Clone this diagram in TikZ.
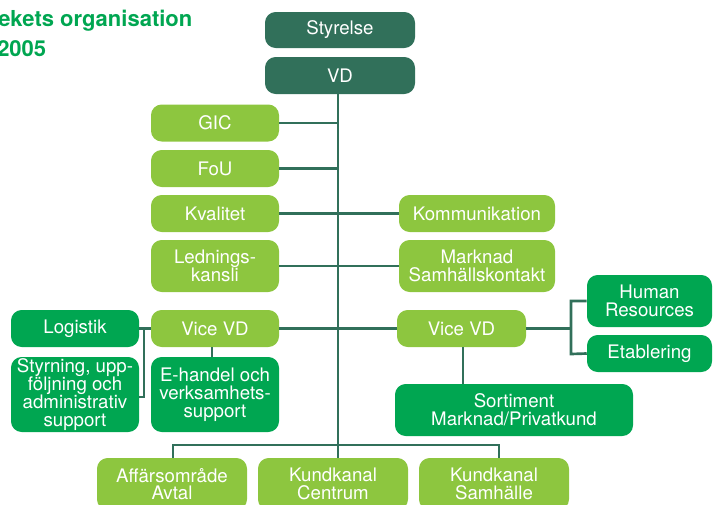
\documentclass[tikz,border=0pt]{standalone}
\usepackage{fontspec}
\setmainfont{TeX Gyre Heros}
\definecolor{dk}{HTML}{31705A}
\definecolor{lg}{HTML}{8DC63F}
\definecolor{mg}{HTML}{00A651}
\begin{document}
\begin{tikzpicture}[x=0.75pt,y=-0.75pt,
  box/.style={rectangle, rounded corners=8pt, inner sep=0pt, text=white, align=center,
    font=\fontsize{14}{13.3}\selectfont, minimum width=96pt, minimum height=27.75pt},
  dark/.style={box, fill=dk},
  light/.style={box, fill=lg},
  mid/.style={box, fill=mg},
  conn/.style={draw=dk, line width=2pt},
  title/.style={anchor=base west, inner sep=0pt, text=mg, font=\bfseries\fontsize{16.5}{20}\selectfont}]
\useasboundingbox (0,0) rectangle (713,504);
% title
\node[title] (t1) at (-2,26) {ekets organisation};
\node[title] (t2) at (-3,56) {2005};
% boxes
\node[dark, minimum width=112.5pt, minimum height=27pt] (sty) at (340,30) {Styrelse};
\node[dark, minimum width=112.5pt] (vd) at (340,75.5) {VD};
\node[light] (gic) at (215,123) {GIC};
\node[light] (fou) at (215,168.5) {FoU};
\node[light] (kval) at (215,213.5) {Kvalitet};
\node[light, minimum height=39pt] (led) at (215,266) {Lednings-\\kansli};
\node[light, minimum width=117pt] (kom) at (477,213.5) {Kommunikation};
\node[light, minimum width=117pt, minimum height=39pt] (mark) at (477,266) {Marknad\\Samhällskontakt};
\node[mid] (log) at (75,328.5) {Logistik};
\node[light] (vvl) at (215,328.5) {Vice VD};
\node[light, minimum width=96.75pt] (vvr) at (461.5,328.5) {Vice VD};
\node[mid, minimum width=93.75pt, minimum height=39pt] (hr) at (649.5,301) {Human\\Resources};
\node[mid, minimum width=93.75pt] (eta) at (649.5,353.5) {Etablering};
\node[mid, minimum height=56.25pt] (styr) at (75,394.5) {Styrning, upp-\\följning och\\administrativ\\support};
\node[mid, minimum height=56.25pt] (eh) at (215,394.5) {E-handel och\\verksamhets-\\support};
\node[mid, minimum width=178.5pt, minimum height=39pt] (sort) at (514,410) {Sortiment\\Marknad/Privatkund};
\node[light, minimum width=112.5pt, minimum height=39pt] (aff) at (172,484) {Affärsområde\\Avtal};
\node[light, minimum width=112.5pt, minimum height=39pt] (kc) at (333,484) {Kundkanal\\Centrum};
\node[light, minimum width=112.5pt, minimum height=39pt] (ks) at (494,484) {Kundkanal\\Samhälle};
% connectors
\coordinate (spine) at (338,445);
\coordinate (lb) at (144,397);
\coordinate (rb1) at (571,301);
\coordinate (rb2) at (571,354);
\coordinate (bl) at (173,445);
\coordinate (br) at (499,445);
\draw[conn] (vd.south -| spine) -- (spine);
\draw[conn] (gic.east) -- (gic.east -| spine);
\draw[conn] (fou.east) -- (fou.east -| spine);
\draw[conn] (kval.east) -- (kom.west);
\draw[conn] (led.east) -- (mark.west);
\draw[conn] (vvl.east) -- (vvr.west);
\draw[conn] (log.east) -- (vvl.west);
\draw[conn] (lb |- log.east) -- (lb) -- (lb -| styr.east);
\draw[conn] ([xshift=-2.25pt]vvl.south) -- ([xshift=-2.25pt]eh.north);
\draw[conn] (vvr.east) -- (vvr.east -| rb1);
\draw[conn] (hr.west) -- (rb1) -- (rb2) -- (eta.west);
\draw[conn] ([xshift=1.1pt]vvr.south) -- ([xshift=1.1pt]vvr.south |- sort.north);
\draw[conn] (aff.north -| bl) -- (bl) -- (br) -- (br |- ks.north);
\draw[conn] (spine) -- (spine |- kc.north);
\end{tikzpicture}
\end{document}
